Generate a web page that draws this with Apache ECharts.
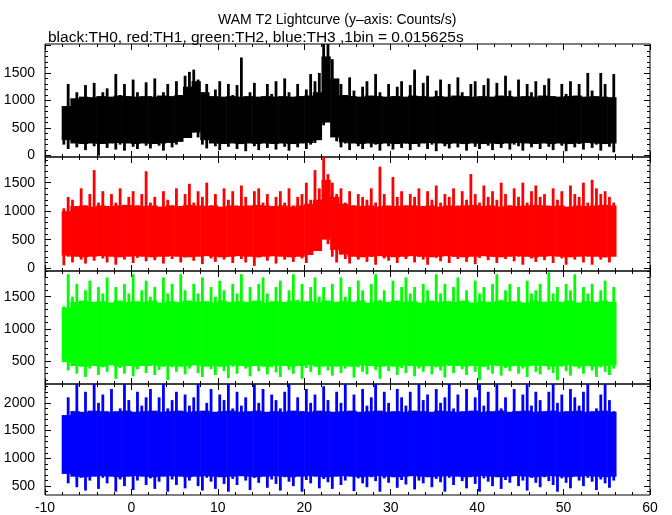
<!DOCTYPE html>
<html>
<head>
<meta charset="utf-8">
<script src="https://cdn.jsdelivr.net/npm/echarts@6/dist/echarts.min.js"></script>
<style>html,body{margin:0;padding:0;background:#fff}#c{width:672px;height:515px}</style>
</head>
<body>
<div id="c"></div>
<script>
// ---- data ----
// spike envelopes per 0.5 s bin, solid core per 1 s bin (2 spike bins)
const binStart = -8.07;
const binWidth = 0.501;
const xTickLabels = [-10, 0, 10, 20, 30, 40, 50, 60];

const th0Hi = [900,1300,1000,1150,960,1280,1050,1320,980,1150,
 1220,990,1480,1100,1300,1020,1380,1150,960,1330,
 1080,1400,1000,1150,1300,1020,1350,1100,1450,1520,
 1560,1380,1150,1300,1000,1200,1350,980,1300,1100,
 1280,1780,1000,1150,1320,1050,980,1300,1120,1350,
 1000,1400,1150,1050,1300,1080,1200,1480,1350,1500,
 2100,2100,1750,1380,1300,1050,1420,1180,1000,1250,
 1350,1000,1480,1150,980,1300,1080,1250,1350,1000,
 1280,1560,1000,1320,1450,1050,1180,1380,990,1300,
 1000,1420,1150,980,1300,1350,1000,1280,1400,1050,
 1320,1000,1450,1180,1050,1380,1000,1300,1150,1350,
 1000,1280,1400,1050,980,1300,1120,1350,1000,1300,
 1050,1500,1180,1000,1500,1300,1050,1480];
const th0Lo = [200,120,260,150,230,100,280,170,0,220,
 140,260,110,200,90,250,160,120,280,180,
 130,250,180,90,260,150,200,260,320,380,
 420,330,200,130,250,170,100,240,160,280,
 120,210,80,240,170,100,260,140,220,110,
 250,160,90,230,150,260,120,200,230,350,
 550,850,450,260,150,220,100,240,170,120,
 260,150,200,90,240,170,110,250,140,220,
 100,230,160,260,120,200,80,240,170,130,
 250,150,210,90,240,160,120,260,180,100,
 230,140,260,110,200,170,90,240,150,220,
 120,250,160,100,230,180,80,240,150,210,
 110,260,140,200,90,230,160,60];
const th0CoreHi = [900,1040,1070,1060,1080,1070,1090,1080, 1070,1080,1070,1090,1080,1100,1250,1350,
 1150,1080,1070,1080,1070,1080,1070,1080, 1070,1080,1070,1080,1090,1150,1800,1400,
 1100,1080,1070,1090,1080,1070,1080,1070, 1090,1080,1070,1080,1070,1090,1080,1070,
 1080,1070,1090,1080,1070,1080,1070,1090, 1080,1070,1080,1090,1070,1080,1070,1060];
const th0CoreLo = [280,220,210,220,210,220,230,220, 210,220,210,220,230,250,320,420,
 280,220,210,220,210,220,210,220, 210,220,210,220,230,280,600,330,
 240,220,210,220,210,220,210,220, 210,220,230,220,210,220,210,220,
 210,220,210,220,230,220,210,220, 210,220,210,220,230,220,210,220];

const th1Hi = [1050,1250,1200,1000,1400,1100,1300,1720,1150,1350,
 1000,1300,1150,1400,1050,1250,1350,1100,1300,1700,
 1150,1250,1000,1350,1200,1100,1400,1050,1300,1480,
 1150,1350,1250,1500,1100,1300,1000,1400,1200,1350,
 1100,1450,1250,1050,1350,1400,1150,1300,1000,1250,
 1350,1150,1400,1100,1250,1300,1500,1200,1720,1400,
 1950,1650,1500,1300,1400,1150,1350,1100,1300,1250,
 1200,1400,1150,1780,1300,1050,1600,1250,1350,1100,
 1300,1250,1400,1050,1350,1200,1450,1150,1300,1250,
 1400,1100,1350,1200,1650,1300,1150,1450,1250,1350,
 1200,1500,1300,1100,1400,1250,1500,1150,1350,1450,
 1250,1300,1100,1400,1200,1350,1050,1450,1300,1250,
 1500,1150,1550,1400,1300,1350,1250,1150];
const th1Lo = [50,200,100,250,150,80,220,130,260,170,
 100,240,60,200,150,250,90,180,230,120,
 210,140,260,80,200,160,240,100,190,250,
 130,220,70,240,170,110,250,150,200,90,
 230,160,100,250,40,190,240,130,210,80,
 240,150,200,110,260,170,90,230,350,550,
 650,420,200,100,240,160,80,220,150,250,
 110,200,60,240,170,130,250,90,210,160,
 240,100,200,150,60,230,180,120,250,90,
 200,160,240,110,220,70,180,250,140,200,
 90,230,160,250,120,200,60,240,170,110,
 250,140,210,90,230,170,60,220,150,250,
 100,200,60,240,150,190,100,220];
const th1CoreHi = [1000,1090,1100,1080,1100,1090,1100,1110, 1100,1090,1100,1080,1100,1090,1110,1100,
 1090,1100,1080,1100,1090,1100,1110,1100, 1090,1100,1080,1100,1130,1200,1550,1250,
 1130,1100,1090,1100,1080,1100,1090,1100, 1100,1090,1100,1080,1100,1090,1100,1110,
 1090,1100,1080,1100,1090,1100,1110,1100, 1090,1100,1080,1100,1090,1100,1110,1100];
const th1CoreLo = [220,200,190,200,210,200,190,200, 210,200,190,200,210,200,190,200,
 210,200,190,200,210,200,190,200, 210,200,190,200,230,300,500,320,
 240,200,190,200,210,200,190,200, 210,200,190,200,210,200,190,200,
 210,200,190,200,210,200,190,200, 210,200,190,200,210,200,190,200];

const th2Hi = [1350,1850,1500,1700,1300,1600,1750,1400,1650,1550,
 1800,1350,1650,1400,1700,1550,1850,1300,1600,1750,
 1500,1650,1350,1800,1550,1700,1400,1850,1600,1300,
 1700,1550,1800,1350,1650,1500,1750,1600,1400,1700,
 1550,1850,1300,1650,1400,1700,1800,1550,1350,1650,
 1750,1300,1600,1850,1450,1700,1350,1650,1800,1500,
 1650,1400,1700,1300,1800,1500,1650,1350,1750,1600,
 1300,1700,1850,1450,1600,1350,1750,1400,1650,1800,
 1550,1650,1300,1700,1600,1400,1850,1550,1700,1350,
 1650,1800,1300,1600,1400,1750,1550,1650,1350,1700,
 1850,1450,1600,1700,1300,1650,1400,1750,1550,1600,
 1700,1350,1880,1550,1650,1300,1700,1600,1850,1400,
 1650,1550,1700,1350,1600,1750,1400,1650];
const th2Lo = [850,350,480,300,420,250,380,450,280,400,
 330,460,220,390,300,440,260,370,480,310,
 420,280,360,450,200,400,330,470,290,380,
 440,310,250,420,370,280,460,340,230,410,
 300,450,380,260,420,340,470,290,400,320,
 250,430,360,300,460,220,390,330,450,280,
 410,350,270,440,310,380,460,240,400,330,
 290,430,360,220,410,340,470,280,390,310,
 450,260,380,330,470,290,400,350,240,420,
 310,450,370,280,430,330,200,410,360,300,
 440,270,390,340,460,300,380,250,420,330,
 290,430,360,310,200,410,340,270,450,380,
 300,420,350,250,400,330,280,380];
const th2CoreHi = [1330,1420,1440,1420,1430,1410,1440,1420, 1430,1420,1440,1410,1430,1420,1440,1420,
 1430,1410,1440,1420,1430,1420,1440,1410, 1430,1420,1440,1420,1430,1410,1440,1420,
 1430,1420,1440,1410,1430,1420,1440,1420, 1430,1410,1440,1420,1430,1420,1440,1410,
 1430,1420,1440,1420,1430,1410,1440,1420, 1430,1420,1440,1410,1430,1420,1440,1420];
const th2CoreLo = [480,420,410,420,410,430,410,420, 410,420,430,410,420,410,420,430,
 410,420,410,430,420,410,420,410, 430,420,410,420,430,410,420,410,
 420,410,430,420,410,420,410,430, 420,410,420,410,430,420,410,420,
 410,430,420,410,420,410,430,420, 410,420,430,410,420,410,420,430];

const th3Hi = [1700,2100,1850,2340,1750,2200,1800,2340,2000,2150,
 1850,2250,1750,1900,2340,2050,1800,2200,1950,2100,
 2250,1750,2100,2340,1900,2050,2200,1750,2150,1950,
 2100,2340,1800,2000,2250,1750,2150,2050,2340,1900,
 2200,1950,2100,1750,2340,2000,2250,1800,2150,2050,
 1900,2200,2340,1750,2100,1850,2250,2000,2150,1800,
 2300,2050,1750,2200,2000,2340,1850,2150,1750,2250,
 1950,2100,2340,1800,2200,2000,1750,2250,2100,1950,
 2200,1800,2340,2050,2150,1750,2250,2000,2100,2340,
 1900,2150,1750,2250,1850,2100,2340,1950,2200,1750,
 2340,1900,2100,1750,2250,1850,2150,2340,1950,2200,
 2050,1750,2200,2340,2000,2150,1800,2250,2100,1950,
 2200,2340,1750,1900,2150,2340,2050,1850];
const th3Lo = [950,550,700,480,650,420,600,720,450,650,
 550,700,400,620,500,680,430,600,720,520,
 640,450,580,700,400,620,520,690,460,600,
 680,500,420,650,580,450,700,540,400,630,
 520,680,600,430,650,560,700,470,620,540,
 420,660,580,500,690,400,610,550,680,460,
 630,570,450,680,520,600,700,410,640,550,
 480,660,590,400,640,560,700,470,610,530,
 680,440,600,550,700,480,630,570,400,650,
 520,680,590,460,660,540,400,640,580,500,
 670,450,610,560,690,500,600,420,650,560,
 480,660,590,520,400,640,560,460,680,600,
 500,650,580,430,620,550,470,600];
const th3CoreHi = [1780,1850,1840,1860,1850,1840,1850,1860, 1840,1850,1860,1840,1850,1860,1840,1850,
 1860,1840,1850,1860,1840,1850,1860,1840, 1850,1840,1860,1850,1840,1860,1850,1840,
 1850,1860,1840,1850,1860,1840,1850,1840, 1860,1850,1840,1860,1850,1840,1850,1860,
 1840,1850,1860,1840,1850,1860,1840,1850, 1860,1840,1850,1860,1840,1850,1860,1840];
const th3CoreLo = [720,670,660,670,680,670,660,670, 680,670,660,670,680,670,660,670,
 680,670,660,670,680,670,660,670, 680,670,660,670,680,670,660,670,
 680,670,660,670,680,670,660,670, 680,670,660,670,680,670,660,670,
 680,670,660,670,680,670,660,670, 680,670,660,670,680,670,660,670];

const panelLo = [th0Lo, th1Lo, th2Lo, th3Lo];
const panelHi = [th0Hi, th1Hi, th2Hi, th3Hi];
const panelCoreLo = [th0CoreLo, th1CoreLo, th2CoreLo, th3CoreLo];
const panelCoreHi = [th0CoreHi, th1CoreHi, th2CoreHi, th3CoreHi];
const panelColor = ['#000000', '#ff0000', '#00ff00', '#0000ff'];
const yMin = [-25, -50, 140, 340];
const yMax = [2025, 1950, 1900, 2340];
const yTickLabels = [[0, 500, 1000, 1500], [0, 500, 1000, 1500], [500, 1000, 1500], [500, 1000, 1500, 2000]];

// ---- layout ----
const gridTop = [44, 157, 271, 384];
const gridH = [113, 114, 113, 112];
const FONT = 'Liberation Sans';
const coreGroup = 2;
const spikeWidthPx = 2.8;

function ticksBetween(min, max, step) {
  const out = [];
  for (let v = Math.ceil(min / step) * step; v <= max; v += step) out.push(v);
  return out;
}

const grids = [], xAxes = [], yAxes = [], series = [];
for (let p = 0; p < 4; p++) {
  grids.push({left: 45, width: 605, top: gridTop[p], height: gridH[p], show: true,
    borderColor: '#000', borderWidth: 1, backgroundColor: 'transparent'});
  for (const pos of ['bottom', 'top']) {
    xAxes.push({type: 'value', gridIndex: p, position: pos, min: -10, max: 60, interval: 10,
      axisLine: {show: false, onZero: false},
      axisTick: {show: true, inside: true, length: 6, lineStyle: {color: '#000', width: 1}},
      minorTick: {show: true, splitNumber: 5, length: 3, lineStyle: {color: '#000', width: 1}},
      splitLine: {show: false}, minorSplitLine: {show: false},
      axisLabel: {show: p === 3 && pos === 'bottom', margin: 6, color: '#000', fontSize: 14, fontFamily: FONT,
        customValues: xTickLabels, formatter: v => String(v)}
    });
  }
  const majors = ticksBetween(yMin[p], yMax[p], 500);
  const minors = ticksBetween(yMin[p], yMax[p], 100).filter(v => v % 500 !== 0);
  for (const pos of ['left', 'right']) {
    yAxes.push({type: 'value', gridIndex: p, position: pos, min: yMin[p], max: yMax[p],
      axisLine: {show: false, onZero: false}, splitLine: {show: false},
      axisTick: {show: true, inside: true, length: 6, customValues: majors, lineStyle: {color: '#000'}},
      axisLabel: {show: pos === 'left', margin: 10, color: '#000', fontSize: 14, fontFamily: FONT,
        customValues: yTickLabels[p], formatter: v => String(v)}
    });
    yAxes.push({type: 'value', gridIndex: p, position: pos, min: yMin[p], max: yMax[p],
      axisLine: {show: false, onZero: false}, splitLine: {show: false},
      axisTick: {show: true, inside: true, length: 3, customValues: minors, lineStyle: {color: '#000'}},
      axisLabel: {show: false}
    });
  }
  const color = panelColor[p];
  // solid core
  const coreLo = panelCoreLo[p], coreHi = panelCoreHi[p];
  const coreData = coreLo.map((l, k) => [binStart + k * coreGroup * binWidth,
    binStart + (k + 1) * coreGroup * binWidth, l, coreHi[k]]);
  series.push({
    type: 'custom', xAxisIndex: p * 2, yAxisIndex: p * 4, clip: true, silent: true,
    encode: {x: [0, 1], y: [2, 3]}, data: coreData,
    renderItem: function (params, api) {
      const a = api.coord([api.value(0), api.value(3)]);
      const b = api.coord([api.value(1), api.value(2)]);
      return {type: 'rect', shape: {x: a[0], y: a[1], width: b[0] - a[0] + 0.6, height: b[1] - a[1]},
        style: {fill: color}};
    }
  });
  // spikes
  const lo = panelLo[p], hi = panelHi[p];
  const data = lo.map((l, i) => [binStart + (i + 0.5) * binWidth, l, hi[i]]);
  series.push({
    type: 'custom', xAxisIndex: p * 2, yAxisIndex: p * 4, clip: true, silent: true,
    encode: {x: 0, y: [1, 2]}, data: data,
    renderItem: function (params, api) {
      const a = api.coord([api.value(0), api.value(2)]);
      const b = api.coord([api.value(0), api.value(1)]);
      return {type: 'rect', shape: {x: a[0] - spikeWidthPx / 2, y: a[1], width: spikeWidthPx, height: b[1] - a[1]},
        style: {fill: color}};
    }
  });
}

const chart = echarts.init(document.getElementById('c'), null, {renderer: 'canvas'});
chart.setOption({
  animation: false,
  backgroundColor: '#ffffff',
  title: [
    {text: 'WAM T2 Lightcurve (y\u2013axis: Counts/s)', left: 213, top: 8,
      textStyle: {fontSize: 14, fontWeight: 'normal', color: '#000', fontFamily: FONT}},
    {text: 'black:TH0, red:TH1, green:TH2, blue:TH3 ,1bin = 0.015625s', left: 43, top: 25,
      textStyle: {fontSize: 15.5, fontWeight: 'normal', color: '#000', fontFamily: FONT}}
  ],
  grid: grids, xAxis: xAxes, yAxis: yAxes, series: series
});
</script>
</body>
</html>
